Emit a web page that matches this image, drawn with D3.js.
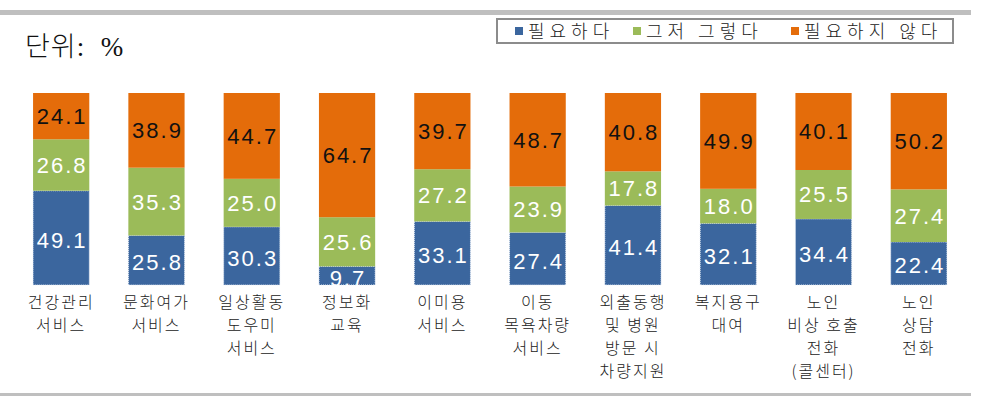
<!DOCTYPE html>
<html>
<head>
<meta charset="utf-8">
<script src="https://cdn.jsdelivr.net/npm/d3@7"></script>
<style>
  body { margin: 0; background: #fff; }
  svg { display: block; }
</style>
</head>
<body>
<div id="chart"></div>
<script>
// Data
const categories = [
    "건강관리\n서비스",
    "문화여가\n서비스",
    "일상활동\n도우미\n서비스",
    "정보화\n교육",
    "이미용\n서비스",
    "이동\n목욕차량\n서비스",
    "외출동행\n및 병원\n방문 시\n차량지원",
    "복지용구\n대여",
    "노인\n비상 호출\n전화\n(콜센터)",
    "노인\n상담\n전화"
];
const seriesNames = ["필요하다", "그저 그렇다", "필요하지 않다"];
const needed = [49.1, 25.8, 30.3, 9.7, 33.1, 27.4, 41.4, 32.1, 34.4, 22.4];
const soso = [26.8, 35.3, 25.0, 25.6, 27.2, 23.9, 17.8, 18.0, 25.5, 27.4];
const notNeeded = [24.1, 38.9, 44.7, 64.7, 39.7, 48.7, 40.8, 49.9, 40.1, 50.2];

const drawChart = (containerId) => {
    const width = 984;
    const height = 420;
    const colors = ["#3b669e", "#9bbb59", "#e46c0a"];
    const labelColors = ["#fff", "#fff", "#111"];

    const svg = d3.select(containerId)
        .append("svg")
        .attr("width", width)
        .attr("height", height);

    // Frame lines top and bottom
    svg.append("rect")
        .attr("x", 0).attr("y", 10)
        .attr("width", 971).attr("height", 5)
        .attr("fill", "#bfbfbf");
    svg.append("rect")
        .attr("x", 0).attr("y", 393)
        .attr("width", 971).attr("height", 3)
        .attr("fill", "#bfbfbf");

    // Unit title
    svg.append("text")
        .attr("x", 25)
        .attr("y", 56)
        .attr("font-family", "'Liberation Serif', 'Noto Sans CJK KR'")
        .attr("font-size", 27)
        .attr("font-weight", 300)
        .attr("fill", "#111")
        .attr("letter-spacing", 1)
        .text("단위:\u00a0\u00a0%");

    // Table for d3.stack
    const rows = categories.map((c, i) => ({
        cat: c, v0: needed[i], v1: soso[i], v2: notNeeded[i]
    }));
    const stacked = d3.stack().keys(["v0", "v1", "v2"])(rows);

    const xScale = d3.scaleBand()
        .domain(categories)
        .range([14, 966])
        .paddingInner(0.41)
        .paddingOuter(0.2);

    const yScale = d3.scaleLinear()
        .domain([0, 100])
        .range([285, 93]);

    // Bars
    const layers = svg.append("g")
        .selectAll("g")
        .data(stacked)
        .join("g")
        .attr("fill", (d, i) => colors[i]);

    layers.selectAll("rect")
        .data(d => d)
        .join("rect")
        .attr("x", d => xScale(d.data.cat))
        .attr("y", d => yScale(d[1]))
        .attr("width", xScale.bandwidth())
        .attr("height", d => yScale(d[0]) - yScale(d[1]));

    // Dotted white edge on the blue segments
    layers.filter((d, i) => i === 0)
        .selectAll("rect")
        .attr("stroke", "#e8eef7")
        .attr("stroke-width", 1)
        .attr("stroke-dasharray", "1,1");

    // Value labels
    layers.each(function (layer, li) {
        d3.select(this).selectAll("text")
            .data(layer)
            .join("text")
            .attr("x", d => xScale(d.data.cat) + xScale.bandwidth() / 2 + 1)
            .attr("y", d => (yScale(d[0]) + yScale(d[1])) / 2 + (li === 0 ? 10 : 8))
            .attr("text-anchor", "middle")
            .attr("font-family", "'Liberation Sans', Arial, sans-serif")
            .attr("font-size", 22)
            .attr("letter-spacing", 2)
            .attr("fill", labelColors[li])
            .text(d => (d[1] - d[0]).toFixed(1));
    });

    // Category labels, one text per line
    const labelGroups = svg.append("g")
        .selectAll("g")
        .data(categories)
        .join("g")
        .attr("transform", d => `translate(${xScale(d) + xScale.bandwidth() / 2},308)`);
    labelGroups.selectAll("text")
        .data(d => d.split("\n"))
        .join("text")
        .attr("y", (d, i) => i * 23)
        .attr("text-anchor", "middle")
        .attr("font-family", "'Noto Sans CJK KR', sans-serif")
        .attr("font-size", 16)
        .attr("font-weight", 300)
        .attr("letter-spacing", 2)
        .attr("fill", "#222")
        .text(d => d);

    // Legend
    const legend = svg.append("g");
    legend.append("rect")
        .attr("x", 497).attr("y", 19)
        .attr("width", 456).attr("height", 24)
        .attr("fill", "#fff")
        .attr("stroke", "#8c8c8c")
        .attr("stroke-width", 2);

    const legendX = [515, 633, 791];
    const items = legend.selectAll("g")
        .data(seriesNames)
        .join("g")
        .attr("transform", (d, i) => `translate(${legendX[i]},31)`);
    items.append("rect")
        .attr("x", 0).attr("y", -4)
        .attr("width", 8).attr("height", 8)
        .attr("fill", (d, i) => colors[i]);
    items.append("text")
        .attr("x", 13)
        .attr("y", 7)
        .attr("font-family", "'Noto Sans CJK KR', sans-serif")
        .attr("font-size", 18)
        .attr("font-weight", 300)
        .attr("letter-spacing", 5)
        .attr("fill", "#222")
        .text(d => d);
};

drawChart("#chart");
</script>
</body>
</html>
